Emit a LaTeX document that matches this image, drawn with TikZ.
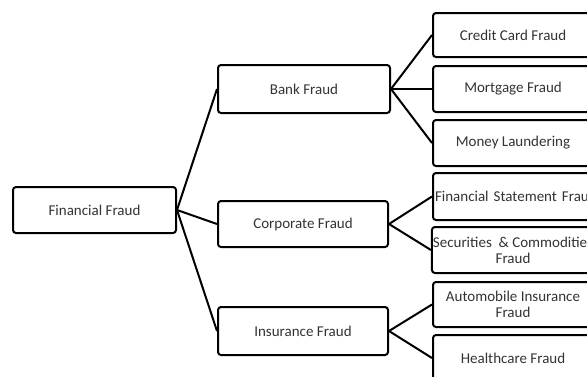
\documentclass[tikz,border=0pt]{standalone}
\usepackage{fontspec}
\setmainfont{Carlito}
\begin{document}
\begin{tikzpicture}[x=1pt,y=-1pt, every node/.style={font=\fontsize{15}{16}\selectfont, align=center, text=black!80},
  box/.style={draw, line width=2pt, rounded corners=3pt, minimum height=46pt, inner sep=1pt},
  link/.style={line width=2pt}]
\useasboundingbox (0,0) rectangle (587,376);

\node[box, minimum width=163pt] (fin) at (94.5,210) {Financial Fraud};

\node[box, minimum width=172pt, minimum height=48pt] (bank) at (304,89) {Bank Fraud};
\node[box, minimum width=170pt] (corp) at (303,224) {Corporate Fraud};
\node[box, minimum width=170pt, minimum height=48pt] (ins) at (303,331) {Insurance Fraud};

\node[box, minimum width=160pt, minimum height=44pt] (credit) at (513,35) {Credit Card Fraud};
\node[box, minimum width=160pt] (mortgage) at (513,89) {Mortgage Fraud};
\node[box, minimum width=160pt] (money) at (513,143) {Money Laundering};
\node[box, minimum width=160pt, minimum height=47pt, text width=156pt] (stmt) at (513,196.5) {\mbox{Financial Statement Fraud}};
\node[box, minimum width=160pt] (secur) at (513,250) {Securities~ \& Commodities\\Fraud};
\node[box, minimum width=160pt, minimum height=45pt] (auto) at (513,304.5) {Automobile Insurance\\Fraud};
\node[box, minimum width=160pt] (health) at (513,358) {Healthcare Fraud};

\draw[link] (fin.east) -- (bank.west);
\draw[link] (fin.east) -- (corp.west);
\draw[link] (fin.east) -- (ins.west);

\draw[link] (bank.east) -- (credit.west);
\draw[link] (bank.east) -- (mortgage.west);
\draw[link] (bank.east) -- (money.west);

\draw[link] (corp.east) -- (stmt.west);
\draw[link] (corp.east) -- (secur.west);

\draw[link] (ins.east) -- (auto.west);
\draw[link] (ins.east) -- (health.west);
\end{tikzpicture}
\end{document}
